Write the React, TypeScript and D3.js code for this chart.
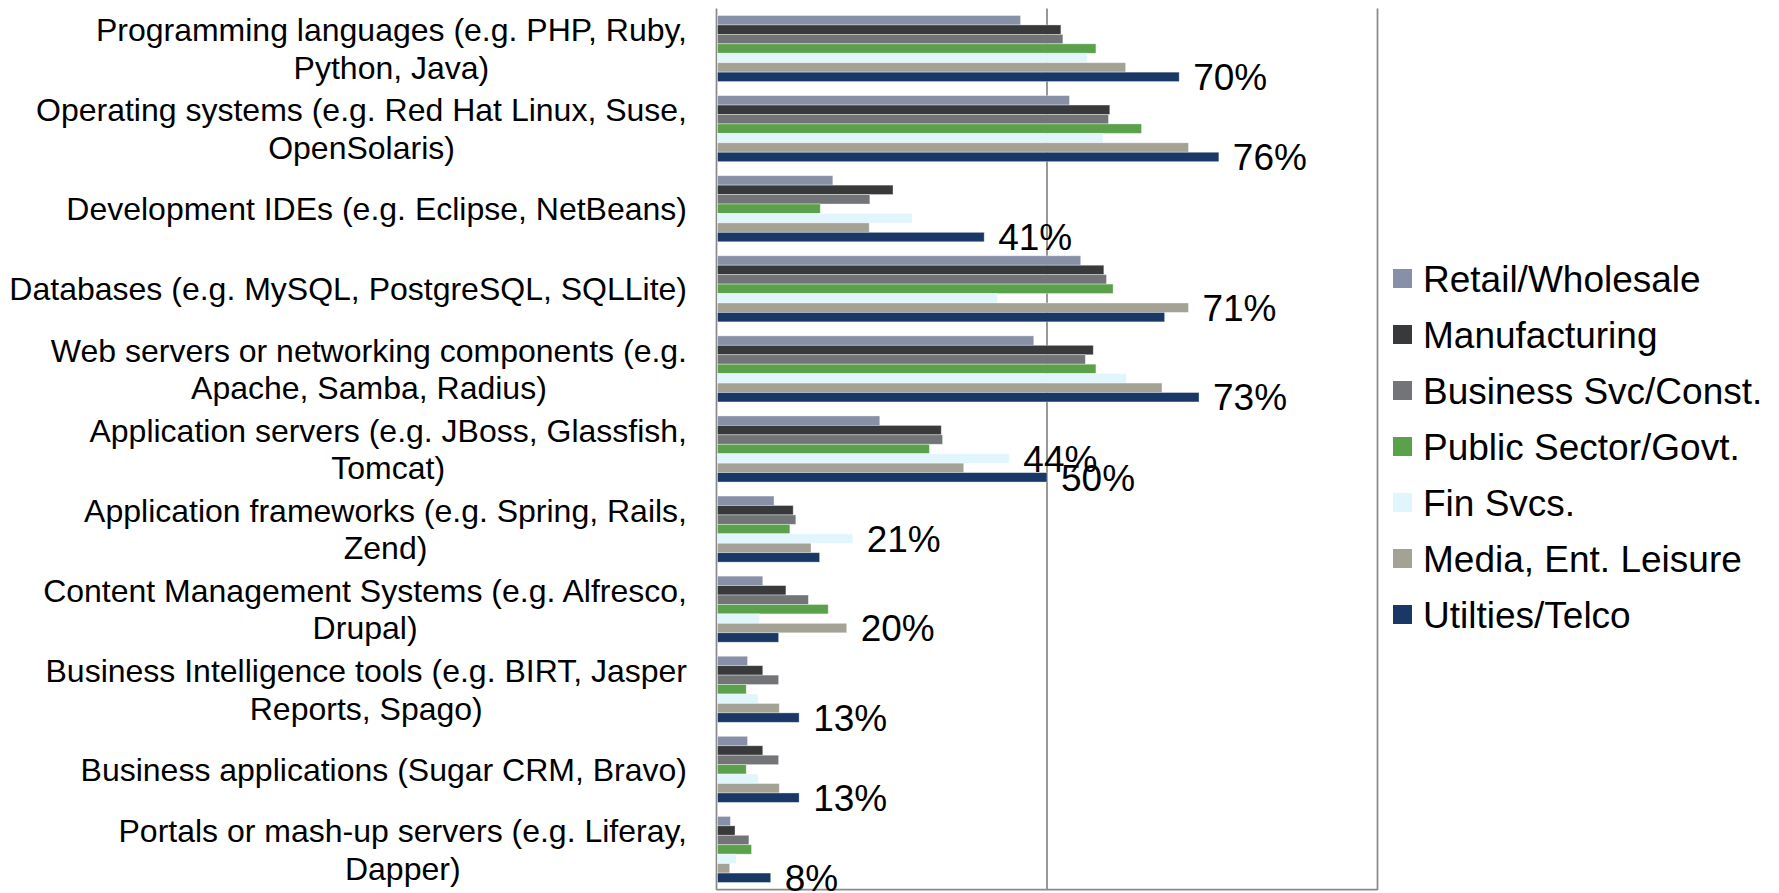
import React, { useEffect, useRef } from 'react';
import * as d3 from 'd3';

const categories: string[][] = [
  ['Programming languages (e.g. PHP, Ruby,', 'Python, Java)'],
  ['Operating systems (e.g. Red Hat Linux, Suse,', 'OpenSolaris)'],
  ['Development IDEs (e.g. Eclipse, NetBeans)'],
  ['Databases (e.g. MySQL, PostgreSQL, SQLLite)'],
  ['Web servers or networking components (e.g.', 'Apache, Samba, Radius)'],
  ['Application servers (e.g. JBoss, Glassfish,', 'Tomcat)'],
  ['Application frameworks (e.g. Spring, Rails,', 'Zend)'],
  ['Content Management Systems (e.g. Alfresco,', 'Drupal)'],
  ['Business Intelligence tools (e.g. BIRT, Jasper', 'Reports, Spago)'],
  ['Business applications (Sugar CRM, Bravo)'],
  ['Portals or mash-up servers (e.g. Liferay,', 'Dapper)'],
];

const seriesNames = [
  'Retail/Wholesale',
  'Manufacturing',
  'Business Svc/Const.',
  'Public Sector/Govt.',
  'Fin Svcs.',
  'Media, Ent. Leisure',
  'Utilties/Telco',
];
const seriesColors = ['#8790a6', '#38393b', '#737478', '#5ba04b', '#e1f5fd', '#a4a295', '#1a3866'];

const retail = [46, 53.4, 17.6, 55.1, 48, 24.7, 8.7, 7, 4.7, 4.7, 2.1];
const manufacturing = [52.1, 59.5, 26.7, 58.6, 57, 34, 11.6, 10.5, 7, 7, 2.8];
const businessSvc = [52.4, 59.3, 23.2, 59, 55.8, 34.2, 12, 13.9, 9.4, 9.4, 4.9];
const publicSector = [57.4, 64.3, 15.7, 60, 57.4, 32.2, 11.1, 16.9, 4.5, 4.5, 5.3];
const finSvcs = [56.1, 58.5, 29.6, 42.5, 62, 44.3, 20.6, 6.5, 6.3, 6.3, 3];
const media = [61.9, 71.4, 23.1, 71.4, 67.4, 37.4, 14.3, 19.7, 9.5, 9.5, 2];
const utilities = [70, 76, 40.5, 67.8, 73, 50, 15.6, 9.4, 12.5, 12.5, 8.2];

const labelCategory = [0, 1, 2, 3, 4, 5, 5, 6, 7, 8, 9, 10];
const labelSeries = [6, 6, 6, 5, 6, 4, 6, 4, 5, 6, 6, 6];
const labelText = ['70%', '76%', '41%', '71%', '73%', '44%', '50%', '21%', '20%', '13%', '13%', '8%'];

const xGrid = [0, 50, 100];

export default function App() {
  const ref = useRef<SVGSVGElement>(null);

  useEffect(() => {
    const svg = d3.select(ref.current);
    svg.selectAll('*').remove();
    const series = [retail, manufacturing, businessSvc, publicSector, finSvcs, media, utilities];

    const x = d3.scaleLinear().domain([0, 100]).range([716.5, 1377.5]);
    const y0 = d3
      .scaleBand<number>()
      .domain(d3.range(categories.length))
      .range([8.5, 889.5])
      .paddingInner(0.175)
      .paddingOuter(0.0875);
    const y1 = d3.scaleBand<number>().domain(d3.range(series.length)).range([0, y0.bandwidth()]);

    const font = 'Liberation Sans, Arial, sans-serif';

    // grid lines
    svg
      .append('g')
      .selectAll('line')
      .data(xGrid)
      .join('line')
      .attr('x1', (d) => x(d))
      .attr('x2', (d) => x(d))
      .attr('y1', 8.5)
      .attr('y2', 890)
      .attr('stroke', '#8a8a8a')
      .attr('stroke-width', 1.75);
    svg
      .append('line')
      .attr('x1', x(0))
      .attr('x2', x(100))
      .attr('y1', 889.5)
      .attr('y2', 889.5)
      .attr('stroke', '#8a8a8a')
      .attr('stroke-width', 1.75);

    // bars
    const groups = svg
      .append('g')
      .selectAll('g')
      .data(categories.map((_, i) => i))
      .join('g')
      .attr('transform', (i) => `translate(0,${y0(i)})`);
    groups
      .selectAll('rect')
      .data((i) => series.map((s, k) => ({ k, v: s[i] })))
      .join('rect')
      .attr('x', x(0) + 1)
      .attr('y', (d) => y1(d.k)!)
      .attr('width', (d) => x(d.v) - x(0) - 1)
      .attr('height', y1.bandwidth())
      .attr('fill', (d) => seriesColors[d.k])
      .attr('stroke', 'rgba(255,255,255,0.45)')
      .attr('stroke-width', 0.8);

    // data labels
    svg
      .append('g')
      .selectAll('text')
      .data(labelText.map((t, j) => ({ t, c: labelCategory[j], s: labelSeries[j] })))
      .join('text')
      .attr('x', (d) => x(series[d.s][d.c]) + 14)
      .attr('y', (d) => y0(d.c)! + y1(d.s)! + y1.bandwidth() / 2 + 13.2)
      .attr('font-family', font)
      .attr('font-size', 37)
      .attr('fill', '#000')
      .text((d) => d.t);

    // category labels
    const catG = svg.append('g');
    const rightEdge = 687;
    const lineH = 37.5;
    categories.forEach((lines, i) => {
      const cy = y0(i)! + y0.bandwidth() / 2;
      const texts = lines.map((ln, li) =>
        catG
          .append('text')
          .attr('font-family', font)
          .attr('font-size', 32)
          .attr('fill', '#000')
          .attr('text-anchor', 'middle')
          .attr('y', cy + (li - (lines.length - 1) / 2) * lineH + 11.5)
          .text(ln)
      );
      const maxW = d3.max(texts, (t) => (t.node() as SVGTextElement).getComputedTextLength()) || 0;
      texts.forEach((t) => t.attr('x', rightEdge - maxW / 2));
    });

    // legend
    const leg = svg
      .append('g')
      .selectAll('g')
      .data(seriesNames.map((n, k) => ({ n, k })))
      .join('g')
      .attr('transform', (d) => `translate(1393,${278.5 + d.k * 56})`);
    leg
      .append('rect')
      .attr('x', 0)
      .attr('y', -9.5)
      .attr('width', 19)
      .attr('height', 19)
      .attr('fill', (d) => seriesColors[d.k]);
    leg
      .append('text')
      .attr('x', 30)
      .attr('y', 13)
      .attr('font-family', font)
      .attr('font-size', 37)
      .attr('fill', '#000')
      .text((d) => d.n);
  }, []);

  return (
    <svg
      ref={ref}
      width={1779}
      height={893}
      style={{ position: 'absolute', left: 0, top: 0, background: '#fff' }}
    />
  );
}
